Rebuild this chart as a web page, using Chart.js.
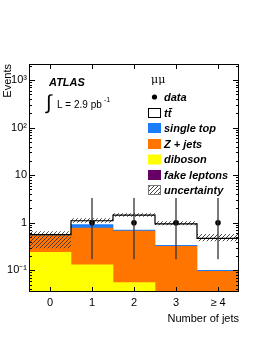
<!DOCTYPE html>
<html>
<head>
<meta charset="utf-8">
<script src="https://cdn.jsdelivr.net/npm/chart.js@4"></script>
<style>
  html, body { margin: 0; padding: 0; background: #fff; }
  #wrap { width: 262px; height: 339px; }
</style>
</head>
<body>
<div id="wrap"><canvas id="jets"></canvas></div>
<script>
// bins and stacked expectations
const jetBins = ['0', '1', '2', '3', '\u2265 4'];
const diboson = [0.24, 0.13, 0.055, 0.02, 0.01];
const zJets = [0.30, 0.64, 0.615, 0.30, 0.085];
const fakeLeptons = [0, 0, 0, 0, 0];
const singleTop = [0.005, 0.14, 0.03, 0.016, 0.005];
const ttbar = [0.015, 0.19, 0.75, 0.61, 0.37];
const uncLow = [0.29, 1.0, 1.33, 0.88, 0.41];
const uncHigh = [0.66, 1.24, 1.58, 1.07, 0.58];
const dataCounts = [null, 1, 1, 1, 1];
const dataErrLow = [null, 0.17, 0.17, 0.17, 0.17];
const dataErrHigh = [null, 3.3, 3.3, 3.3, 3.3];
const binEdges = [-0.5, 0.5, 1.5, 2.5, 3.5, 4.5];
const yTickVals = [0.1, 1, 10, 100, 1000];
const yTickText = ['10\u207B\u00B9', '1', '10', '10\u00B2', '10\u00B3'];

const FONT = '"Liberation Sans", Arial, Helvetica, sans-serif';

// hatch for the uncertainty band
function makeHatch() {
    const c = document.createElement('canvas');
    c.width = 4; c.height = 4;
    const g = c.getContext('2d');
    g.strokeStyle = '#333';
    g.lineWidth = 0.9;
    g.beginPath();
    g.moveTo(0, 4); g.lineTo(4, 0);
    g.moveTo(-1, 1); g.lineTo(1, -1);
    g.moveTo(3, 5); g.lineTo(5, 3);
    g.stroke();
    return g.createPattern(c, 'repeat');
}
const hatch = makeHatch();

// step outlines run over the bin edges
const last = jetBins.length - 1;
const totals = jetBins.map((_, i) => diboson[i] + zJets[i] + fakeLeptons[i] + singleTop[i] + ttbar[i]);
const steps = vals => binEdges.map((e, i) => ({ x: e, y: vals[Math.min(i, last)] }));
const errSegments = dataErrLow.flatMap((lo, i) =>
    lo === null ? [] : [{ x: i, y: lo }, { x: i, y: dataErrHigh[i] }, { x: i + 0.5, y: null }]);

// frame, inward ticks, legend and labels
const atlasDecor = {
    id: 'atlasDecor',
    afterDatasetsDraw(chart) {
        const { ctx, chartArea: a, scales } = chart;
        const y = scales.y, x = scales.x;
        ctx.save();
        ctx.strokeStyle = '#000';
        ctx.lineWidth = 1;
        ctx.beginPath();
        // log ticks on left and right
        for (let k = -2; k <= 3; k++) {
            for (let m = 1; m <= 9; m++) {
                const v = m * Math.pow(10, k);
                if (v < y.min || v > y.max) continue;
                const py = Math.round(y.getPixelForValue(v)) + 0.5;
                const len = m === 1 ? 6 : 3;
                ctx.moveTo(a.left, py); ctx.lineTo(a.left + len, py);
                ctx.moveTo(a.right, py); ctx.lineTo(a.right - len, py);
            }
        }
        // bin ticks on top and bottom
        jetBins.forEach((_, i) => {
            const px = Math.round(x.getPixelForValue(i)) + 0.5;
            ctx.moveTo(px, a.top); ctx.lineTo(px, a.top + 5);
            ctx.moveTo(px, a.bottom); ctx.lineTo(px, a.bottom - 5);
        });
        ctx.stroke();
        ctx.strokeRect(a.left + 0.5, a.top + 0.5, a.right - a.left - 1, a.bottom - a.top - 1);
        ctx.restore();
    },
    afterDraw(chart) {
        const ctx = chart.ctx;
        ctx.save();
        ctx.fillStyle = '#000';
        ctx.textBaseline = 'middle';
        ctx.font = 'italic bold 11px ' + FONT;
        ctx.fillText('ATLAS', 49, 83);
        ctx.font = '20px ' + FONT;
        ctx.fillText('\u222B', 46, 103);
        ctx.font = '10px ' + FONT;
        ctx.fillText('L = 2.9 pb', 57, 105);
        ctx.font = '7px ' + FONT;
        ctx.fillText('-1', 104, 100);
        ctx.font = '11px "DejaVu Serif", serif';
        ctx.fillText('\u03BC\u03BC', 151, 80);

        const rows = [
            { label: 'data', kind: 'dot', y: 97 },
            { label: 'tt\u0304', kind: 'box', color: '#fff', line: '#000', y: 113 },
            { label: 'single top', kind: 'box', color: '#1c7dfc', y: 128 },
            { label: 'Z + jets', kind: 'box', color: '#ff7500', y: 144 },
            { label: 'diboson', kind: 'box', color: '#ffff00', y: 159.5 },
            { label: 'fake leptons', kind: 'box', color: '#660066', y: 175 },
            { label: 'uncertainty', kind: 'box', color: hatch, line: '#777', y: 190 }
        ];
        rows.forEach(r => {
            if (r.kind === 'dot') {
                ctx.beginPath();
                ctx.arc(154.5, r.y, 2.6, 0, Math.PI * 2);
                ctx.fill();
            } else {
                ctx.fillStyle = r.color;
                ctx.fillRect(148, r.y - 5, 13, 10);
                if (r.line) {
                    ctx.strokeStyle = r.line;
                    ctx.lineWidth = 1;
                    ctx.strokeRect(148.5, r.y - 4.5, 12, 9);
                }
            }
            ctx.fillStyle = '#000';
            ctx.font = 'italic bold 11px ' + FONT;
            ctx.fillText(r.label, 164, r.y + 0.5);
        });
        ctx.restore();
    }
};

// grouped: false keeps the extra x2 axis from splitting each bin in two
const stackBar = (label, data, color) => ({
    label, data, backgroundColor: color, borderWidth: 0,
    stack: 'mc', order: 3, grouped: false, categoryPercentage: 1, barPercentage: 1
});

const stepLine = (label, data, extra) => Object.assign({
    type: 'line', label, data, xAxisID: 'x2', stack: label,
    stepped: true, pointRadius: 0, fill: false, borderWidth: 0
}, extra);

new Chart(document.getElementById('jets'), {
    type: 'bar',
    data: {
        labels: jetBins,
        datasets: [
            stackBar('diboson', diboson, '#ffff00'),
            stackBar('Z + jets', zJets, '#ff7500'),
            stackBar('fake leptons', fakeLeptons, '#660066'),
            stackBar('single top', singleTop, '#1c7dfc'),
            stackBar('ttbar', ttbar, '#ffffff'),
            stepLine('unc high', steps(uncHigh), { order: 2, borderColor: 'rgba(0,0,0,0)' }),
            stepLine('unc low', steps(uncLow), {
                order: 2, borderColor: 'rgba(0,0,0,0)', fill: '-1', backgroundColor: hatch
            }),
            stepLine('total', steps(totals), { order: 1, borderColor: '#000', borderWidth: 1.2 }),
            {
                type: 'line', label: 'data errors', data: errSegments, xAxisID: 'x2',
                stack: 'err', spanGaps: false, borderColor: '#333', borderWidth: 1.3,
                pointRadius: 0, fill: false, order: 0
            },
            {
                type: 'line',
                label: 'data',
                data: dataCounts,
                stack: 'data',
                showLine: false,
                pointRadius: 2.8,
                pointBackgroundColor: '#000',
                pointBorderWidth: 0,
                order: 0
            }
        ]
    },
    options: {
        responsive: true,
        maintainAspectRatio: false,
        animation: false,
        layout: { padding: { top: 64, right: 23, left: 0, bottom: 0 } },
        plugins: { legend: { display: false }, tooltip: { enabled: false } },
        scales: {
            x: {
                stacked: true,
                grid: { display: false, drawTicks: false },
                border: { display: false },
                ticks: { color: '#000', font: { family: FONT, size: 11 }, padding: 4 },
                title: {
                    display: true, text: 'Number of jets', align: 'end',
                    color: '#000', font: { family: FONT, size: 11 }, padding: 13
                },
                afterFit: s => { s.height = 47; }
            },
            x2: { type: 'linear', min: -0.5, max: 4.5, offset: false, display: false },
            y: {
                type: 'logarithmic',
                stacked: true,
                min: 0.035,
                max: 2170,
                grid: { display: false, drawTicks: false },
                border: { display: false },
                afterBuildTicks: s => { s.ticks = yTickVals.map(v => ({ value: v })); },
                ticks: {
                    color: '#000', font: { family: FONT, size: 11 }, padding: 2, autoSkip: false,
                    callback: (v) => {
                        const i = yTickVals.findIndex(t => Math.abs(t - v) < t * 1e-6);
                        return i >= 0 ? yTickText[i] : '';
                    }
                },
                title: {
                    display: true, text: 'Events', align: 'end',
                    color: '#000', font: { family: FONT, size: 11 }, padding: 1.4
                },
                afterFit: s => { s.width = 29; }
            }
        }
    },
    plugins: [atlasDecor]
});
</script>
</body>
</html>
